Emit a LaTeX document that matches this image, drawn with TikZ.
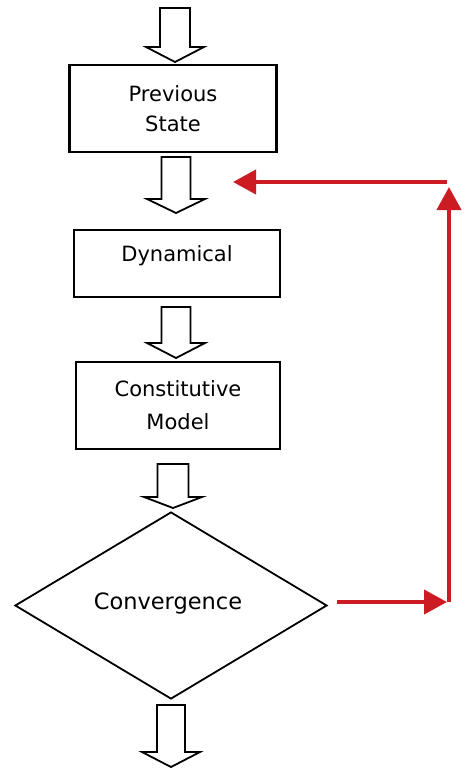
\documentclass[tikz,border=0pt]{standalone}
\usepackage{fontspec}
\setmainfont{DejaVu Sans}
\usetikzlibrary{shapes.geometric,arrows.meta}
\definecolor{flowred}{RGB}{204,27,34}
\tikzset{
  x=1pt, y=-1pt,
  box/.style={draw=black, line width=2.2pt, fill=white, inner sep=0pt,
    font=\fontsize{21}{30}\selectfont, align=center},
  decision/.style={diamond, draw=black, line width=1.8pt, inner sep=0pt,
    minimum width=312pt, minimum height=187pt},
  barrow/.style={draw=black, line width=1.8pt, fill=white, line join=miter},
  redarrow/.style={draw=flowred, line width=4pt, -{Triangle[length=23pt,width=24pt]}},
}
% block arrow: #1 = center x, #2 = top y, #3 = head y, #4 = tip y, #5 = shaft half-width, #6 = head half-width
\newcommand{\blockarrow}[6]{%
  \draw[barrow] (#1-#5,#2) -- (#1+#5,#2) -- (#1+#5,#3) -- (#1+#6,#3) -- (#1,#4)
    -- (#1-#6,#3) -- (#1-#5,#3) -- cycle;}
\begin{document}
\begin{tikzpicture}
\useasboundingbox (0,0) rectangle (463,768);

\node[box, minimum width=207pt, minimum height=87pt] (prev) at (173,108.5) {Previous\\State};
\node[box, minimum width=206pt, minimum height=67pt,
  label={[font=\fontsize{21}{24}\selectfont, yshift=8pt]center:Dynamical}] (dyn) at (177,263.5) {};
\node[box, minimum width=204pt, minimum height=87pt] (cons) at (178,405.5)
  {Constitutive\\[3pt]Model};
\node[decision,
  label={[font=\fontsize{22.5}{26}\selectfont, xshift=-3pt, yshift=2.5pt]center:Convergence}] (conv) at (171,605.5) {};

\blockarrow{175}{8}{47}{62}{15}{29}
\blockarrow{176}{157}{199}{213}{14.5}{29}
\blockarrow{176}{307}{343}{358}{14.5}{29}
\blockarrow{173}{464}{497}{508}{15.5}{29}
\blockarrow{171}{705}{752}{767}{14}{29}

\coordinate (rstart) at ([xshift=9pt,yshift=3.5pt]conv.east);
\coordinate (rcorner) at (447,602);
\coordinate (rbottom) at (449,602);
\coordinate (rtop) at (449,187);
\coordinate (rtopstart) at (447,182);
\coordinate (rend) at (233,182);

\draw[redarrow] (rstart) -- (rcorner);
\draw[redarrow] (rbottom) -- (rtop);
\draw[redarrow] (rtopstart) -- (rend);
\end{tikzpicture}
\end{document}
